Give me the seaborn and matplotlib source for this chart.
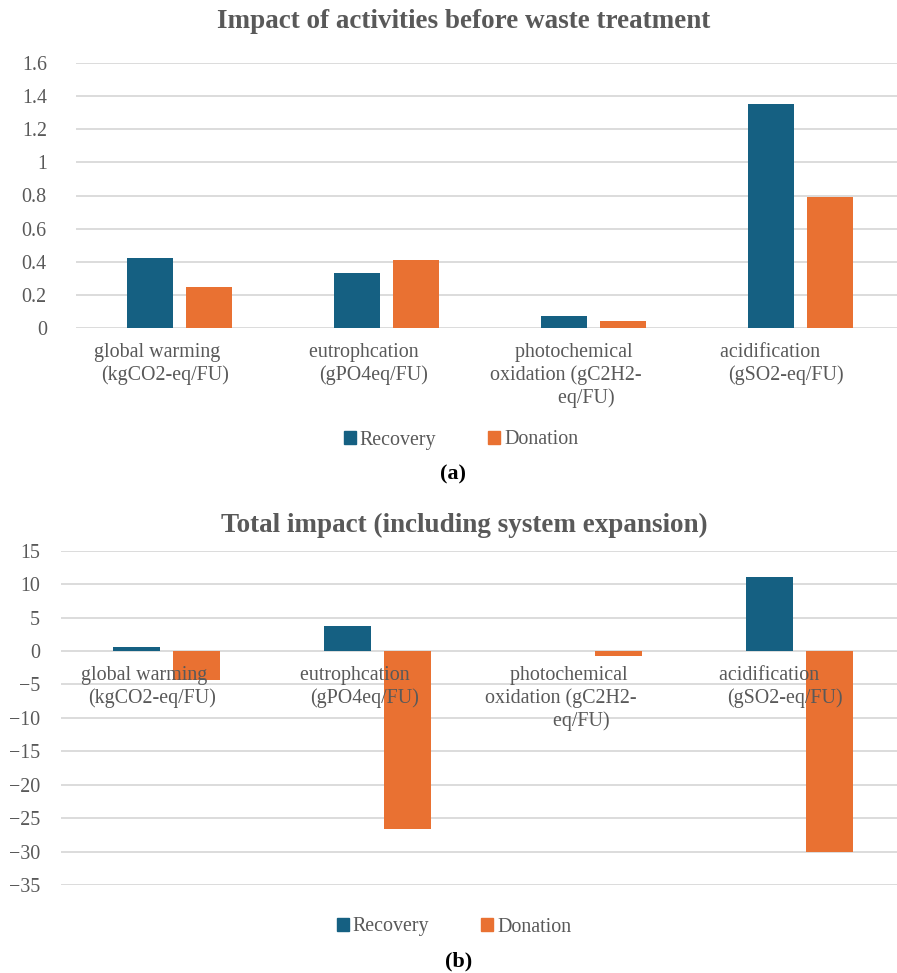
import pandas as pd
import matplotlib
matplotlib.use("Agg")
import matplotlib.pyplot as plt
import matplotlib.transforms as mtransforms
from matplotlib.ticker import FuncFormatter, MultipleLocator
import seaborn as sns

# ---- data -------------------------------------------------------------
categories = ["global warming", "eutrophcation", "photochemical oxidation", "acidification"]
category_labels = [
    "global warming   \n(kgCO2-eq/FU)",
    "eutrophcation    \n(gPO4eq/FU)",
    "   photochemical\noxidation (gC2H2-\n        eq/FU)",
    "acidification      \n(gSO2-eq/FU)",
]
schemes = ["Recovery", "Donation"]
before_recovery = [0.42, 0.33, 0.07, 1.35]
before_donation = [0.25, 0.41, 0.04, 0.79]
total_recovery = [0.6, 3.8, 0.05, 11.0]
total_donation = [-4.4, -26.6, -0.75, -30.1]
scheme_colors = ["#156082", "#E97132"]

titles = ["Impact of activities before waste treatment",
          "Total impact (including system expansion)"]
panel_tags = ["(a)", "(b)"]

GREY = "#595959"
GRID = "#D9D9D9"
FONT = "Liberation Serif"
FS = 14.4
# horizontal nudge of each category label block, in pixels
label_nudge = [-14.5, -12.5, -27.5, -15]


def long_table(rec, don):
    return pd.DataFrame({
        "category": categories * 2,
        "value": list(rec) + list(don),
        "scheme": [schemes[0]] * len(rec) + [schemes[1]] * len(don),
    })


sns.set_theme(style="white")
plt.rcParams["font.family"] = [FONT, "DejaVu Serif"]
plt.rcParams["axes.unicode_minus"] = True

fig = plt.figure(figsize=(8.97, 9.73), dpi=100)
W, H = 897, 973


def axes_px(left, top, width, height):
    return fig.add_axes([left / W, 1 - (top + height) / H, width / W, height / H])


ax_a = axes_px(76, 63, 828, 265)
ax_b = axes_px(61, 550.7, 844, 334.3)

panels = [
    (ax_a, long_table(before_recovery, before_donation), (0, 1.6), 0.2, 21),
    (ax_b, long_table(total_recovery, total_donation), (-35, 15), 5, 15),
]

for ax, df, ylim, step, ypad in panels:
    sns.barplot(data=df, x="category", y="value", hue="scheme",
                hue_order=schemes, order=categories, palette=scheme_colors,
                saturation=1, width=0.57, gap=0.22, legend=False,
                linewidth=0, ax=ax, zorder=2)
    ax.set_xlim(-0.5, 3.5)
    ax.set_ylim(*ylim)
    ax.yaxis.set_major_locator(MultipleLocator(step))
    ax.yaxis.set_major_formatter(FuncFormatter(
        lambda v, p: ("{:g}".format(round(v, 6))).replace("-", "\u2212")))
    ax.set_xlabel("")
    ax.set_ylabel("")
    # horizontal gridlines behind the bars; axis labels drawn above the bars
    ax.set_axisbelow(False)
    ax.grid(False)
    for v in ax.get_yticks():
        if ylim[0] - 1e-9 <= v <= ylim[1] + 1e-9:
            ax.axhline(v, color=GRID, linewidth=1.3, zorder=0.5)
    for s in ax.spines.values():
        s.set_visible(False)
    ax.spines["bottom"].set_position(("data", 0))
    ax.tick_params(axis="both", length=0, colors=GREY, labelsize=FS)
    ax.tick_params(axis="y", pad=ypad)
    ax.tick_params(axis="x", pad=10.5)
    ax.set_xticks(range(len(categories)))
    ax.set_xticklabels(category_labels, linespacing=1.25)
    for lab, dx in zip(ax.get_xticklabels(), label_nudge):
        shift = mtransforms.ScaledTranslation(dx / 100, 0, fig.dpi_scale_trans)
        lab.set_transform(lab.get_transform() + shift)
        lab.set_multialignment("center")
        lab.set_color(GREY)
    for lab in ax.get_yticklabels():
        lab.set_color(GREY)

# titles
fig.text(464 / W, 1 - 28 / H, titles[0], ha="center", va="baseline",
         fontsize=19.5, fontweight="bold", color=GREY)
fig.text(464 / W, 1 - 532 / H, titles[1], ha="center", va="baseline",
         fontsize=19.5, fontweight="bold", color=GREY)

# legends
handles = [plt.Rectangle((0, 0), 1, 1, color=c) for c in scheme_colors]
for cx, cy in [(461, 440), (454, 927)]:
    fig.legend(handles, schemes, loc="center", bbox_to_anchor=(cx / W, 1 - cy / H),
               ncol=2, frameon=False, fontsize=FS, labelcolor=GREY,
               handlelength=0.6, handleheight=0.6, handletextpad=0.2,
               columnspacing=2.6, borderpad=0)

# panel tags
fig.text(453 / W, 1 - 479 / H, panel_tags[0], ha="center", va="baseline",
         fontsize=16, fontweight="bold", color="black")
fig.text(459 / W, 1 - 966 / H, panel_tags[1], ha="center", va="baseline",
         fontsize=16, fontweight="bold", color="black")

fig.savefig("out.png", dpi=100, facecolor="white")
